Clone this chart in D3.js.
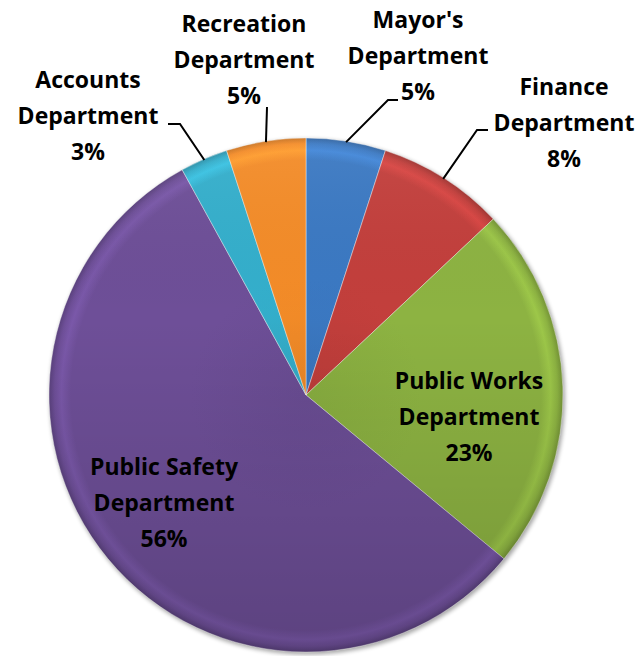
<!DOCTYPE html>
<html>
<head>
<meta charset="utf-8">
<script src="https://cdn.jsdelivr.net/npm/d3@7"></script>
<style>
  html, body { margin: 0; padding: 0; background: #fff; }
  svg { display: block; }
  text { font-family: "Open Sans", Lato, sans-serif; font-weight: 700; fill: #000; }
</style>
</head>
<body>
<svg id="chart" width="643" height="656"></svg>
<script>
// Budget share by department (percent), clockwise from 12 o'clock
const departments = ["Mayor's Department", "Finance Department", "Public Works Department",
                     "Public Safety Department", "Accounts Department", "Recreation Department"];
const shares = [5, 8, 23, 56, 3, 5];
const labelLines = [["Mayor's", "Department"], ["Finance", "Department"], ["Public Works", "Department"],
                    ["Public Safety", "Department"], ["Accounts", "Department"], ["Recreation", "Department"]];

// Slice colours
const sliceColors = ["#3b79c3", "#c33f3c", "#8db342", "#6e4f98", "#34afcc", "#f48c28"];

// Label layout: text centre x, first baseline y, optional leader elbow / end point
const labelLayout = [
  { x: 418, y: 28, elbow: [388, 100], end: [398, 100] },
  { x: 564, y: 95, elbow: [477, 130], end: [488, 130] },
  { x: 469, y: 389 },
  { x: 164, y: 475 },
  { x: 88,  y: 88, elbow: [180, 124], end: [168, 124] },
  { x: 244, y: 32, elbow: [267, 107], end: null }
];

const cx = 306, cy = 395, radius = 257, lineGap = 36;

const svg = d3.select("#chart");
const defs = svg.append("defs");

// soft shadow under the pie
const shadow = defs.append("filter").attr("id", "shadow")
  .attr("color-interpolation-filters", "sRGB")
  .attr("x", "-10%").attr("y", "-10%").attr("width", "120%").attr("height", "120%");
shadow.append("feGaussianBlur").attr("stdDeviation", 2.2);

// bevel rim gradient per slice colour (centred on the pie's local origin)
sliceColors.forEach((c, i) => {
  const base = d3.color(c);
  const g = defs.append("radialGradient").attr("id", "grad" + i)
    .attr("gradientUnits", "userSpaceOnUse")
    .attr("cx", 0).attr("cy", 0).attr("r", radius).attr("fx", 0).attr("fy", 0);
  const stops = [
    [0, base.darker(0.12)],
    [0.45, base],
    [0.915, base],
    [0.952, base.brighter(0.3)],
    [0.978, base],
    [1, base.darker(0.55)]
  ];
  stops.forEach(([o, col]) => g.append("stop").attr("offset", o).attr("stop-color", col.formatHex()));
});

// top-to-bottom shading over the whole disc
const shade = defs.append("linearGradient").attr("id", "shade")
  .attr("gradientUnits", "userSpaceOnUse")
  .attr("x1", 0).attr("y1", -radius).attr("x2", 0).attr("y2", radius);
shade.append("stop").attr("offset", 0).attr("stop-color", "#fff").attr("stop-opacity", 0.06);
shade.append("stop").attr("offset", 0.35).attr("stop-color", "#000").attr("stop-opacity", 0);
shade.append("stop").attr("offset", 1).attr("stop-color", "#000").attr("stop-opacity", 0.16);

const pie = d3.pie().value(d => d).sort(null);
const arcs = pie(shares);
const arc = d3.arc().innerRadius(0).outerRadius(radius);

const pieG = svg.append("g").attr("transform", `translate(${cx},${cy})`);

// shadow disc
pieG.append("circle")
  .attr("cx", 1.5).attr("cy", 2).attr("r", radius + 0.5)
  .attr("fill", "#000").attr("opacity", 0.35)
  .attr("filter", "url(#shadow)");

pieG.selectAll("path.slice").data(arcs).join("path")
  .attr("class", "slice")
  .attr("d", arc)
  .attr("fill", (d, i) => `url(#grad${i})`)
  .attr("stroke", "rgba(255,255,255,0.5)")
  .attr("stroke-width", 0.8)
  .attr("stroke-linejoin", "round");

pieG.append("circle")
  .attr("r", radius)
  .attr("fill", "url(#shade)")
  .attr("pointer-events", "none");

// leader lines from the rim of the small slices
arcs.forEach((d, i) => {
  const L = labelLayout[i];
  if (!L.elbow) return;
  const mid = (d.startAngle + d.endAngle) / 2;
  const p0 = [cx + (radius - 1) * Math.sin(mid), cy - (radius - 1) * Math.cos(mid)];
  const pts = [p0, L.elbow];
  if (L.end) pts.push(L.end);
  svg.append("path")
    .attr("d", d3.line()(pts))
    .attr("fill", "none")
    .attr("stroke", "#000")
    .attr("stroke-width", 2);
});

// labels
const fmt = d3.format(".0f");
arcs.forEach((d, i) => {
  const L = labelLayout[i];
  const lines = [...labelLines[i], fmt(shares[i]) + "%"];
  const t = svg.append("text")
    .attr("text-anchor", "middle")
    .attr("font-size", 23);
  lines.forEach((s, k) => {
    t.append("tspan").attr("x", L.x).attr("y", L.y + k * lineGap).text(s);
  });
});
</script>
</body>
</html>
